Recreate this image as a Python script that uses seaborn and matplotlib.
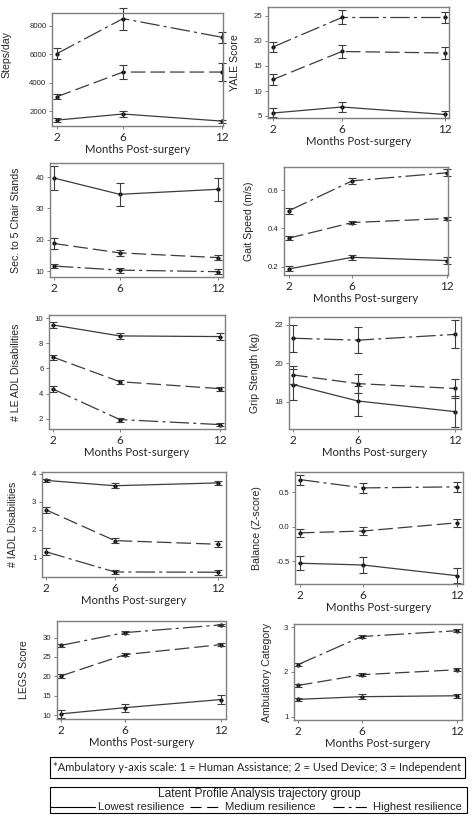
import numpy as np
import pandas as pd
import matplotlib
matplotlib.use("Agg")
import matplotlib.pyplot as plt
from matplotlib.lines import Line2D
from matplotlib.patches import Rectangle
import seaborn as sns

# ---------------- data ----------------
months = [2, 6, 12]
groups = ["Lowest resilience", "Medium resilience", "Highest resilience"]

steps_mean = [[1360, 1790, 1290], [3010, 4750, 4750], [6050, 8520, 7200]]
steps_err = [[120, 180, 110], [190, 490, 660], [400, 770, 400]]

yale_mean = [[5.6, 6.8, 5.3], [12.3, 17.9, 17.6], [18.8, 24.7, 24.7]]
yale_err = [[0.9, 0.95, 0.65], [1.15, 1.3, 1.2], [1.05, 1.4, 1.1]]

chair_mean = [[39.7, 34.5, 36.1], [18.8, 15.8, 14.3], [11.6, 10.3, 9.8]]
chair_err = [[3.9, 3.65, 3.7], [1.6, 1.05, 0.85], [0.75, 0.8, 0.8]]

gait_mean = [[0.19, 0.25, 0.233], [0.35, 0.431, 0.452], [0.493, 0.648, 0.69]]
gait_err = [[0.013, 0.013, 0.017], [0.01, 0.01, 0.01], [0.015, 0.017, 0.017]]

leadl_mean = [[9.45, 8.58, 8.53], [6.9, 4.95, 4.4], [4.37, 1.95, 1.55]]
leadl_err = [[0.24, 0.22, 0.26], [0.2, 0.16, 0.16], [0.24, 0.16, 0.13]]

grip_mean = [[18.9, 18.05, 17.5], [19.4, 18.95, 18.7], [21.3, 21.2, 21.5]]
grip_err = [[0.8, 0.77, 0.8], [0.46, 0.48, 0.5], [0.69, 0.67, 0.72]]

iadl_mean = [[3.77, 3.58, 3.68], [2.72, 1.62, 1.49], [1.22, 0.5, 0.49]]
iadl_err = [[0.05, 0.08, 0.07], [0.11, 0.1, 0.11], [0.12, 0.07, 0.09]]

balance_mean = [[-0.53, -0.555, -0.71], [-0.09, -0.064, 0.055], [0.68, 0.56, 0.575]]
balance_err = [[0.1, 0.12, 0.11], [0.06, 0.06, 0.06], [0.073, 0.07, 0.07]]

legs_mean = [[10.3, 11.9, 14.0], [20.1, 25.6, 28.2], [28.0, 31.3, 33.3]]
legs_err = [[1.07, 1.0, 1.2], [0.45, 0.35, 0.4], [0.4, 0.35, 0.35]]

amb_mean = [[1.39, 1.45, 1.47], [1.70, 1.94, 2.05], [2.165, 2.79, 2.92]]
amb_err = [[0.04, 0.05, 0.05], [0.03, 0.03, 0.03], [0.04, 0.03, 0.03]]

ylabels = ["Steps/day", "YALE Score", "Sec. to 5 Chair Stands", "Gait Speed (m/s)",
           "# LE ADL Disabilities", "Grip Stength (kg)", "# IADL Disabilities",
           "Balance (Z-score)", "LEGS Score", "Ambulatory Category"]
yticks = [[2000, 4000, 6000, 8000], [5, 10, 15, 20, 25], [10, 20, 30, 40], [0.2, 0.4, 0.6],
          [2, 4, 6, 8, 10], [18, 20, 22], [1, 2, 3, 4], [-0.5, 0.0, 0.5],
          [10, 15, 20, 25, 30], [1, 2, 3]]
ytick_labels = [["2000", "4000", "6000", "8000"], ["5", "10", "15", "20", "25"],
                ["10", "20", "30", "40"], ["0.2", "0.4", "0.6"], ["2", "4", "6", "8", "10"],
                ["18", "20", "22"], ["1", "2", "3", "4"], ["-0.5", "0.0", "0.5"],
                ["10", "15", "20", "25", "30"], ["1", "2", "3"]]
xlabel_text = "Months Post-surgery"
footnote = "*Ambulatory y-axis scale: 1 = Human Assistance; 2 = Used Device; 3 = Independent"
legend_title = "Latent Profile Analysis trajectory group"

means = [steps_mean, yale_mean, chair_mean, gait_mean, leadl_mean,
         grip_mean, iadl_mean, balance_mean, legs_mean, amb_mean]
errs = [steps_err, yale_err, chair_err, gait_err, leadl_err,
        grip_err, iadl_err, balance_err, legs_err, amb_err]

rows = []
for mi, (mm, ee) in enumerate(zip(means, errs)):
    for gi, g in enumerate(groups):
        for k, mo in enumerate(months):
            rows.append(dict(measure=ylabels[mi], group=g, month=mo,
                             mean=mm[gi][k], err=ee[gi][k]))
df = pd.DataFrame(rows)

# ---------------- layout (pixels) ----------------
W, H = 475, 818
boxes = [(52, 13, 223, 126), (268, 7, 449, 118), (50, 163, 223, 277), (284, 167, 448, 275),
         (49, 315, 225, 429), (289, 317, 461, 429), (42, 472, 226, 577), (295, 472, 463, 584),
         (57, 621, 226, 719), (294, 624, 462, 720)]
xlims = [(1.70, 12.06), (1.71, 12.23), (1.76, 12.3), (1.68, 12.06), (1.76, 12.3),
         (1.75, 12.37), (1.77, 12.47), (1.68, 12.38), (1.75, 12.31), (1.75, 12.31)]
ylims = [(944, 8915), (4.6, 26.8), (8.1, 44.5), (0.158, 0.72), (1.2, 10.24),
         (16.6, 22.4), (0.32, 4.07), (-0.83, 0.79), (8.97, 34.3), (0.93, 3.07)]
ylabel_x = [11, 240, 21, 254, 21, 260, 18, 262, 29, 272]
ylabel_y = [55, None, None, None, None, None, None, None, None, None]
show_xlabel = [True, True, False, True, True, True, True, True, True, True]

sns.set_style("white")
plt.rcParams["lines.scale_dashes"] = False
plt.rcParams["font.family"] = ["Liberation Sans", "DejaVu Sans"]

LC = "#3c3c3c"
SPINE = "#7f7f7f"
dash_map = {groups[0]: "", groups[1]: (10.5, 3.6), groups[2]: (14, 3.0, 2.2, 3.0)}
marker_map = {g: "o" for g in groups}

fig = plt.figure(figsize=(W / 100, H / 100), dpi=100)


def fx(x):
    return x / W


def fy(y):
    return 1 - y / H


for i, (l, t, r, b) in enumerate(boxes):
    ax = fig.add_axes([fx(l), fy(b), (r - l) / W, (b - t) / H])
    sub = df[df.measure == ylabels[i]]
    sns.lineplot(data=sub, x="month", y="mean", style="group", style_order=groups,
                 dashes=dash_map, markers=marker_map, color=LC, linewidth=0.9,
                 markersize=2.6, markeredgecolor="black", markerfacecolor="black",
                 markeredgewidth=0.3, legend=False, errorbar=None, ax=ax)
    eb = ax.errorbar(sub["month"], sub["mean"], yerr=sub["err"], fmt="none",
                     ecolor=LC, elinewidth=0.8, capsize=3.0, capthick=0.8)
    for art in eb.lines[1] + eb.lines[2]:
        art.set_clip_on(False)
    ax.set_xlim(*xlims[i])
    ax.set_ylim(*ylims[i])
    ax.set_xticks(months)
    ax.set_xticklabels([str(m) for m in months], fontfamily="Lato", fontsize=8.5)
    ax.set_yticks(yticks[i])
    ax.set_yticklabels(ytick_labels[i], fontsize=5.6)
    ax.tick_params(axis="both", direction="out", length=2.5, width=0.7, color=SPINE,
                   left=True, bottom=True, pad=1.5)
    for s in ax.spines.values():
        s.set_color(SPINE)
        s.set_linewidth(1.0)
    if show_xlabel[i]:
        ax.set_xlabel(xlabel_text, fontfamily="Lato", fontsize=8.2, labelpad=1)
    else:
        ax.set_xlabel("")
    ax.set_ylabel(ylabels[i], fontsize=7.6)
    h = b - t
    yc = 0.5 if ylabel_y[i] is None else (b - ylabel_y[i]) / h
    ax.yaxis.set_label_coords((ylabel_x[i] - l) / (r - l), yc)

# footnote box
fig.add_artist(Rectangle((fx(50), fy(778)), (465 - 50) / W, (778 - 757) / H,
                         transform=fig.transFigure, fill=False, edgecolor="black", lw=0.8))
fig.text(fx(257.5), fy(767.5), footnote, ha="center", va="center",
         fontfamily="Lato", fontsize=8.0)

# legend box
fig.add_artist(Rectangle((fx(50), fy(813)), (467 - 50) / W, (813 - 787) / H,
                         transform=fig.transFigure, fill=False, edgecolor="black", lw=0.8))
fig.text(fx(259), fy(794.5), legend_title, ha="center", va="center", fontsize=8.6)
leg_lines = [(50, 95, 98), (190, 222, 225), (333, 370, 373)]
leg_dashes = [None, (8, 4), (8, 3, 2, 3)]
for g, (x0, x1, xt), dsh in zip(groups, leg_lines, leg_dashes):
    ln = Line2D([fx(x0), fx(x1)], [fy(806.5), fy(806.5)], transform=fig.transFigure,
                color="black", lw=0.8)
    if dsh is not None:
        ln.set_dashes(dsh)
    fig.add_artist(ln)
    fig.text(fx(xt), fy(807), g, ha="left", va="center", fontsize=8.1)

fig.savefig("out.png", dpi=100)
